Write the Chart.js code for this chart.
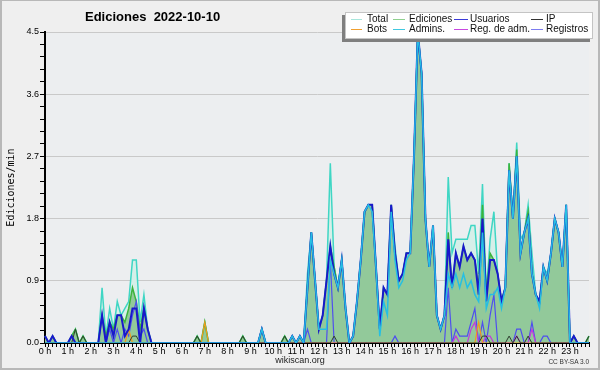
<!DOCTYPE html>
<html>
<head>
<meta charset="utf-8">
<script src="https://cdn.jsdelivr.net/npm/chart.js@4/dist/chart.umd.min.js"></script>
<style>
  html, body { margin: 0; padding: 0; background: #efefef; }
  #wrap { position: relative; width: 600px; height: 370px; overflow: hidden; background: #efefef; }
  #c { position: absolute; left: 0; top: 0; }
  #title { position: absolute; left: 85px; top: 10px; font: bold 13px "Liberation Sans", Arial, sans-serif; line-height: 13px; white-space: pre; color: #000; }
  #legend { position: absolute; left: 345px; top: 12px; width: 246px; height: 25px; background: #fff; border: 1px solid #c4c4c4; box-shadow: -3px 3px 0 #7f7f7f; }
  .lg-line { position: absolute; height: 1px; }
  .lg-text { position: absolute; font: 10px "Liberation Sans", Arial, sans-serif; line-height: 10px; color: #111; white-space: pre; }
  #site { position: absolute; left: 0; width: 600px; top: 356px; text-align: center; font: 9px "Liberation Sans", Arial, sans-serif; line-height: 9px; color: #222; }
  #lic { position: absolute; right: 11px; top: 358px; font: 6.5px "Liberation Sans", Arial, sans-serif; line-height: 7px; color: #333; }
  #frame { position: absolute; left: 0; top: 0; right: 0; bottom: 0; border: 2px solid #b8b8b8; border-top-width: 1px; pointer-events: none; }
</style>
</head>
<body>
<div id="wrap">
  <canvas id="c" width="600" height="370"></canvas>
  <div id="title">Ediciones  2022-10-10</div>
  <div id="legend"></div>
  <div id="site">wikiscan.org</div>
  <div id="lic">CC BY-SA 3.0</div>
  <div id="frame"></div>
</div>
<script>
// one value every 10 minutes, 24 rows of 6
const hourLabels = ['0 h','1 h','2 h','3 h','4 h','5 h','6 h','7 h','8 h','9 h','10 h','11 h',
                    '12 h','13 h','14 h','15 h','16 h','17 h','18 h','19 h','20 h','21 h','22 h','23 h'];
const yLabels = [0.0, 0.9, 1.8, 2.7, 3.6, 4.5];

const total = [
  0.1,0,0.1,0,0,0,
  0,0.1,0.2,0,0.1,0,
  0,0,0,0.8,0.1,0.5,
  0.2,0.6,0.4,0.5,0.6,1.2,
  1.2,0.3,0.7,0.2,0,0,
  0,0,0,0,0,0,
  0,0,0,0,0.1,0,
  0.3,0,0,0,0,0,
  0,0,0,0,0.1,0,
  0,0,0,0.2,0,0,
  0,0,0,0.1,0,0.1,
  0,0.1,0,1.0,1.6,0.9,
  0.2,0.4,0.9,2.6,1.1,0.8,
  1.2,0.5,0,0.1,0.6,1.2,
  1.9,2.0,2.0,1.1,0.2,0.8,
  0.7,2.0,1.4,0.9,1.0,1.3,
  1.3,2.7,4.5,3.9,1.8,1.1,
  1.7,0.4,0.2,0.4,2.4,1.3,
  1.5,1.5,1.5,1.5,1.7,1.7,
  1.0,2.3,0.7,1.5,1.9,1.0,
  0.6,0.8,2.6,1.8,2.9,1.5,
  1.6,2.0,1.3,0.7,0.6,1.1,
  1.0,1.3,1.8,1.6,1.1,2.0,
  0,0.1,0,0,0,0.1
];
const ediciones = [
  0.1,0,0.1,0,0,0,
  0,0.1,0.2,0,0.1,0,
  0,0,0,0.4,0.1,0.3,
  0.2,0.4,0.4,0.3,0.5,0.8,
  0.6,0.2,0.5,0.2,0,0,
  0,0,0,0,0,0,
  0,0,0,0,0.1,0,
  0.3,0,0,0,0,0,
  0,0,0,0,0.1,0,
  0,0,0,0.2,0,0,
  0,0,0,0.1,0,0.1,
  0,0.1,0,0.8,1.6,0.9,
  0.2,0.4,0.9,1.4,1.1,0.8,
  1.2,0.5,0,0.1,0.6,1.2,
  1.9,2.0,2.0,1.1,0.2,0.8,
  0.7,2.0,1.3,0.9,1.0,1.3,
  1.3,2.7,4.5,3.9,1.8,1.1,
  1.7,0.4,0.2,0.4,1.6,0.8,
  1.3,1.1,1.4,1.2,1.3,1.2,
  0.8,2.0,0.7,1.3,1.2,1.0,
  0.6,0.8,2.6,1.8,2.8,1.3,
  1.6,1.9,1.0,0.7,0.6,1.1,
  0.9,1.3,1.8,1.6,1.1,2.0,
  0,0.1,0,0,0,0.1
];
const usuarios = [
  0.1,0,0.1,0,0,0,
  0,0.1,0,0,0,0,
  0,0,0,0.4,0,0.3,
  0.1,0.4,0.4,0.1,0.2,0.5,
  0.5,0,0.5,0.2,0,0,
  0,0,0,0,0,0,
  0,0,0,0,0,0,
  0,0,0,0,0,0,
  0,0,0,0,0,0,
  0,0,0,0.2,0,0,
  0,0,0,0,0,0.1,
  0,0.1,0,0.8,1.6,0.9,
  0.2,0.4,0.9,1.4,1.0,0.8,
  1.2,0.5,0,0.1,0.6,1.2,
  1.9,2.0,2.0,1.1,0.2,0.8,
  0.7,2.0,1.3,0.9,1.0,1.3,
  1.3,2.7,4.5,3.9,1.8,1.1,
  1.7,0.4,0.2,0.4,1.5,0.8,
  1.3,1.1,1.4,1.2,1.3,1.2,
  0.7,1.8,0.6,1.2,1.2,1.0,
  0.6,0.8,2.5,1.8,2.7,1.3,
  1.6,1.8,1.0,0.7,0.6,1.1,
  0.9,1.3,1.8,1.6,1.1,2.0,
  0,0.1,0,0,0,0
];
const ip = [
  0,0,0,0,0,0,
  0,0,0.2,0,0.1,0,
  0,0,0,0,0,0,
  0,0,0,0,0,0.1,
  0.1,0,0,0,0,0,
  0,0,0,0,0,0,
  0,0,0,0,0.1,0,
  0,0,0,0,0,0,
  0,0,0,0,0.1,0,
  0,0,0,0,0,0,
  0,0,0,0.1,0,0,
  0,0,0,0,0,0,
  0,0,0,0,0.1,0,
  0,0,0,0,0,0,
  0,0,0,0,0,0,
  0,0,0,0,0,0,
  0,0,0,0,0,0,
  0,0,0,0,0,0,
  0,0,0,0,0,0,
  0,0.1,0.1,0,0,0,
  0,0,0.1,0,0.1,0,
  0,0.1,0,0,0,0,
  0,0,0,0,0,0,
  0,0,0,0,0,0.1
];
const bots = [
  0,0,0,0,0,0,  0,0,0,0,0,0,  0,0,0,0,0,0,  0,0,0,0,0.2,0,
  0,0,0,0,0,0,  0,0,0,0,0,0,  0,0,0,0,0,0,  0.3,0,0,0,0,0,
  0,0,0,0,0,0,  0,0,0,0,0,0,  0,0,0,0,0,0,  0,0,0,0,0,0,
  0,0,0,0,0,0,  0,0,0,0,0,0,  0,0,0,0,0,0,  0,0,0,0,0,0,
  0,0,0,0,0,0,  0,0,0,0,0,0,  0,0,0,0,0,0,  0.3,0,0,0,0,0,
  0,0,0,0,0,0,  0,0,0,0,0,0,  0,0,0,0,0,0,  0,0,0,0,0,0
];
const admins = [
  0,0,0,0,0,0,
  0,0,0,0,0,0,
  0,0,0,0,0,0,
  0,0,0,0,0,0,
  0,0,0,0,0,0,
  0,0,0,0,0,0,
  0,0,0,0,0,0,
  0,0,0,0,0,0,
  0,0,0,0,0,0,
  0,0,0,0.2,0,0,
  0,0,0,0,0,0.1,
  0,0.1,0,0.8,1.6,0.9,
  0.2,0.2,0.2,1.2,1.0,0.8,
  1.2,0.5,0,0.1,0.6,1.2,
  1.9,2.0,1.9,1.1,0.1,0.6,
  0.4,1.9,1.2,0.8,0.9,1.2,
  1.3,2.7,4.5,3.9,1.8,1.1,
  1.7,0.4,0.2,0.4,1.0,0.8,
  1.0,0.8,1.0,0.8,0.9,0.7,
  0.6,1.6,0.5,0.7,0.7,0.8,
  0.5,0.8,2.5,1.8,2.7,1.3,
  1.6,1.8,1.0,0.7,0.5,1.1,
  0.9,1.3,1.8,1.6,1.1,2.0,
  0,0,0,0,0,0
];
const regAdm = [
  0,0,0,0,0,0,  0,0,0,0,0,0,  0,0,0,0,0,0,  0,0,0,0,0,0,
  0,0,0,0,0,0,  0,0,0,0,0,0,  0,0,0,0,0,0,  0,0,0,0,0,0,
  0,0,0,0,0,0,  0,0,0,0,0,0,  0,0,0,0,0,0,  0,0,0,0,0,0,
  0,0,0,0,0,0,  0,0,0,0,0,0,  0,0,0,0,0,0,  0,0,0,0,0,0,
  0,0,0,0,0,0,  0,0,0,0,0,0,  0.1,0,0,0,0.2,0.3,  0,0,0.1,0.1,0,0,
  0,0,0,0,0.1,0,  0,0,0.2,0,0,0,  0,0,0,0,0,0,  0,0,0,0,0,0
];
const registros = [
  0,0,0,0,0,0,
  0,0,0,0,0,0,
  0,0,0,0.4,0,0.2,
  0,0.2,0,0.2,0.1,0.4,
  0.6,0.1,0.2,0,0,0,
  0,0,0,0,0,0,
  0,0,0,0,0,0,
  0,0,0,0,0,0,
  0,0,0,0,0,0,
  0,0,0,0,0,0,
  0,0,0,0,0,0,
  0,0,0,0.2,0,0,
  0,0,0,1.2,0,0,
  0,0,0,0,0,0,
  0,0,0,0,0,0,
  0,0,0.1,0,0,0,
  0,0,0,0,0,0,
  0,0,0,0,0.8,0,
  0.2,0.1,0.1,0.1,0.3,0.5,
  0,0.3,0,0.4,0.7,0,
  0,0,0,0,0.2,0.2,
  0,0,0.3,0,0,0.1,
  0.1,0,0,0,0,0,
  0,0,0,0,0,0
];

// x categories: 00:00 .. 23:50
const times = [];
for (let h = 0; h < 24; h++) {
  for (let m = 0; m < 60; m += 10) {
    times.push(String(h).padStart(2, '0') + ':' + String(m).padStart(2, '0'));
  }
}

// y ticks: labelled every 0.9, small marks every 0.18
const yTicks = [];
for (let k = 0; k <= 25; k++) yTicks.push(+(k * 0.18).toFixed(2));
const isMajor = v => yLabels.some(l => Math.abs(l - v) < 1e-6);

const series = [
  { name: 'Total',        color: '#a8e6dc' },
  { name: 'Ediciones',    color: '#8fd08f' },
  { name: 'Usuarios',     color: '#3a3ad8' },
  { name: 'IP',           color: '#333333' },
  { name: 'Bots',         color: '#f0a030' },
  { name: 'Admins.',      color: '#40c8e0' },
  { name: 'Reg. de adm.', color: '#c848e0' },
  { name: 'Registros',    color: '#7c7cf0' }
];

// legend box
const legend = document.getElementById('legend');
const colLine = [5, 47, 108, 185];
const colW = [11, 12, 14, 12];
const colText = [21, 63, 124, 200];
series.forEach((s, i) => {
  const col = i % 4, row = Math.floor(i / 4);
  const line = document.createElement('div');
  line.className = 'lg-line';
  line.style.left = colLine[col] + 'px';
  line.style.width = colW[col] + 'px';
  line.style.top = (6 + row * 10) + 'px';
  line.style.background = s.color;
  legend.appendChild(line);
  const t = document.createElement('div');
  t.className = 'lg-text';
  t.style.left = colText[col] + 'px';
  t.style.top = (1 + row * 10) + 'px';
  t.textContent = s.name;
  legend.appendChild(t);
});

const plotBg = {
  id: 'plotBg',
  beforeDraw(chart) {
    const { ctx, chartArea: a } = chart;
    ctx.save();
    ctx.fillStyle = '#eceef0';
    ctx.fillRect(a.left, a.top, a.right - a.left, a.bottom - a.top);
    ctx.restore();
  }
};

const tickFont = { family: '"Liberation Sans", Arial, sans-serif', size: 9 };

function line(label, data, color, width, extra) {
  return Object.assign({
    label: label,
    data: data,
    borderColor: color,
    borderWidth: width,
    pointRadius: 0,
    tension: 0,
    fill: false
  }, extra || {});
}

new Chart(document.getElementById('c'), {
  type: 'line',
  data: {
    labels: times,
    // first dataset is drawn on top
    datasets: [
      line('Admins.', admins, '#26bfe2', 1.5),
      line('Usuarios', usuarios, '#1818cc', 2),
      line('IP', ip, '#2e3e2e', 1),
      line('Bots', bots, '#f29a1c', 1.2),
      line('Reg. de adm.', regAdm, '#c43adb', 1.2),
      line('Registros', registros, '#4f4fee', 1.2),
      line('Ediciones', ediciones, '#3cb43c', 1.5, { fill: 'origin', backgroundColor: '#92c99a' }),
      line('Total', total, '#3fd6c4', 1.5, { fill: 'origin', backgroundColor: '#d6efe9' })
    ]
  },
  options: {
    responsive: false,
    animation: false,
    events: [],
    layout: { padding: { top: 32, right: 11, left: 0, bottom: 0 } },
    plugins: {
      legend: { display: false },
      title: { display: false },
      tooltip: { enabled: false }
    },
    scales: {
      x: {
        type: 'category',
        offset: false,
        z: 1,
        grid: { drawOnChartArea: false, drawTicks: true, tickLength: 4, tickColor: '#000', tickWidth: 1 },
        border: { color: '#000', width: 2 },
        ticks: {
          autoSkip: false,
          maxRotation: 0,
          minRotation: 0,
          padding: -1,
          color: '#000',
          font: tickFont,
          callback: (v, i) => (i % 6 === 0 ? hourLabels[i / 6] : '')
        },
        afterFit: s => { s.height = 27; }
      },
      y: {
        type: 'linear',
        position: 'left',
        min: 0,
        max: 4.5,
        afterBuildTicks: s => { s.ticks = yTicks.map(v => ({ value: v })); },
        grid: {
          color: c => (c.tick && isMajor(c.tick.value) ? '#c9c9c9' : 'rgba(0,0,0,0)'),
          tickColor: '#000',
          tickLength: 5,
          drawTicks: true
        },
        border: { color: '#000', width: 2 },
        ticks: {
          autoSkip: false,
          padding: 1,
          color: '#000',
          font: tickFont,
          callback: v => (isMajor(v) ? v.toFixed(1) : '')
        },
        title: {
          display: true,
          text: 'Ediciones/min',
          color: '#000',
          font: { family: '"DejaVu Sans Mono", monospace', size: 10 },
          padding: { top: 5, bottom: 0 }
        },
        afterFit: s => { s.width = 45; }
      }
    }
  },
  plugins: [plotBg]
});
</script>
</body>
</html>
